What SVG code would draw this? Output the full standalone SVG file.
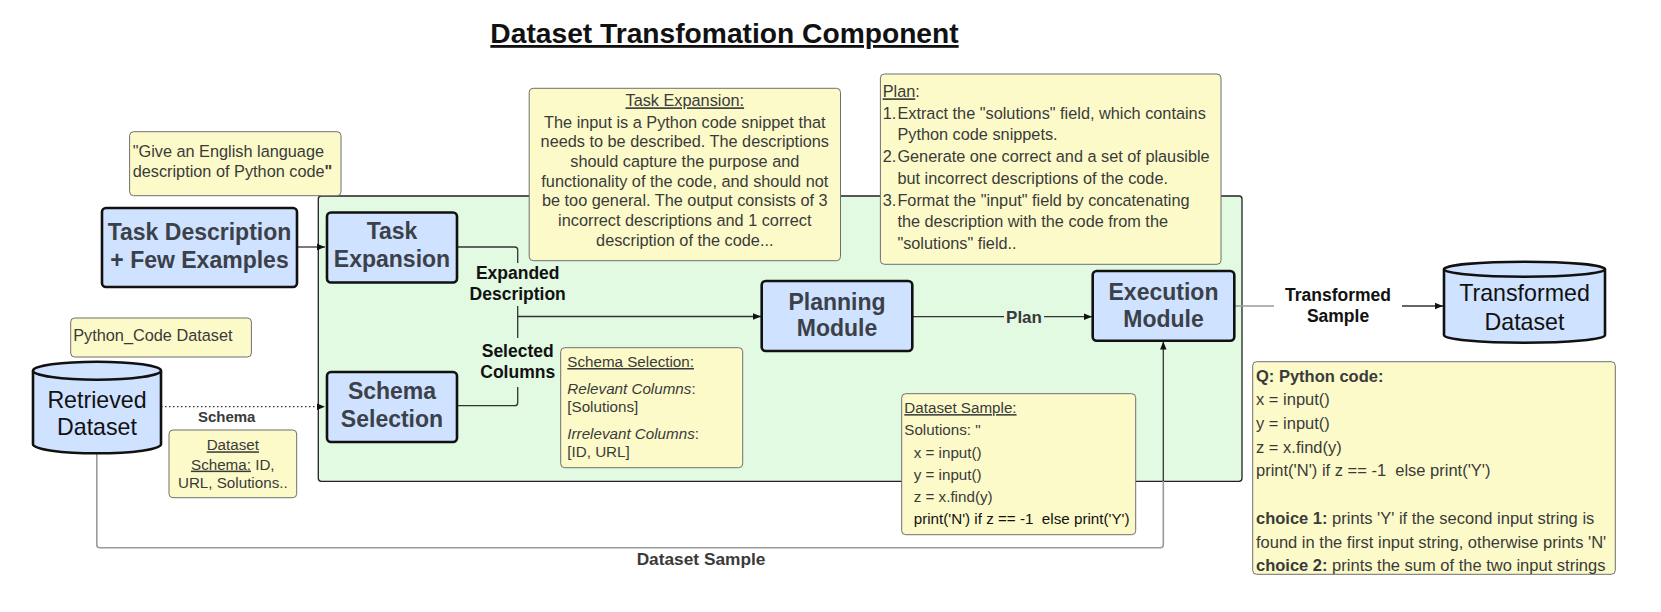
<svg xmlns="http://www.w3.org/2000/svg" width="1661" height="612" viewBox="0 0 1661 612">
<defs>
<style>
text{font-family:"Liberation Sans",Arial,sans-serif;white-space:pre}
.mod{fill:#cfe2ff;stroke:#111;stroke-width:2.6}
.modt{font-size:23px;font-weight:bold;fill:#3b4049;text-anchor:middle}
.db{fill:#cfe2ff;stroke:#111;stroke-width:2.6}
.dbt{font-size:23.2px;fill:#111;text-anchor:middle}
.note{fill:#fcfac9;stroke:#6f6f6f;stroke-width:1}
.nt{font-size:16.3px;fill:#3a3a3a}
.ns{font-size:15.2px;fill:#3a3a3a}
.nq{font-size:16.5px;fill:#3a3a3a}
.lbl{font-size:17.5px;font-weight:bold;fill:#111;text-anchor:middle}
.lblg{font-size:17.5px;font-weight:bold;fill:#3a3a3a;text-anchor:middle}
.ln{fill:none;stroke:#333;stroke-width:1.3}
.lng{fill:none;stroke:#9a9a9a;stroke-width:1.6}
.u{text-decoration:underline}
</style>
<marker id="arr" viewBox="0 0 10 10" refX="10" refY="5" markerWidth="8" markerHeight="8" markerUnits="userSpaceOnUse" orient="auto">
<path d="M0,1 L10,5 L0,9 Z" fill="#111"/>
</marker>
</defs>
<rect width="1661" height="612" fill="#fff"/>

<g id="title">
<text x="724.5" y="43" style="font-size:28.2px;font-weight:bold;fill:#111;text-decoration:underline" text-anchor="middle">Dataset Transfomation Component</text>
</g>

<g id="container">
<rect x="318.3" y="196" width="923.7" height="285.3" rx="3" fill="#e2f9e2" stroke="#222" stroke-width="1.3"/>
</g>

<g id="connectors">
<path class="ln" d="M297,247 H325" marker-end="url(#arr)"/>
<path class="ln" d="M456.7,247 H514.7 Q517.7,247 517.7,250 V263"/>
<path class="ln" d="M517.7,306 V338"/>
<path class="ln" d="M517.7,387 V402.7 Q517.7,405.7 514.7,405.7 H456.7"/>
<path class="ln" d="M517.7,316.5 H761" marker-end="url(#arr)"/>
<path class="ln" d="M912.3,316.7 H1004"/>
<path class="ln" d="M1044,316.7 H1092" marker-end="url(#arr)"/>
<path fill="none" stroke="#333" stroke-width="1.2" d="M161,406.7 H325" stroke-dasharray="1.5,2.5" marker-end="url(#arr)"/>
<path class="lng" d="M96.8,453.3 V544.7 Q96.8,547.7 99.8,547.7 H1160.3 Q1163.3,547.7 1163.3,544.7 V480"/>
<path class="ln" d="M1163.3,481 V341.5" marker-end="url(#arr)"/>
<path class="lng" d="M1234.3,306 H1274"/>
<path class="ln" d="M1402,306 H1443" marker-end="url(#arr)"/>
<text class="lbl" x="517.7" y="278.5">Expanded</text>
<text class="lbl" x="517.7" y="299.5">Description</text>
<text class="lbl" x="517.7" y="357">Selected</text>
<text class="lbl" x="517.7" y="377.8">Columns</text>
<text class="lblg" x="1024" y="322.5" style="font-size:17px">Plan</text>
<text class="lbl" x="1338" y="301">Transformed</text>
<text class="lbl" x="1338" y="321.8">Sample</text>
<text class="lblg" x="226.7" y="422" style="font-size:15px">Schema</text>
<text class="lblg" x="701" y="565" style="font-size:17.3px">Dataset Sample</text>
</g>

<g id="note-give">
<rect class="note" x="129.6" y="131.7" width="211.4" height="64" rx="4"/>
<text class="nt" x="132.7" y="157.4">"Give an English language</text>
<text class="nt" x="132.7" y="176.7">description of Python code<tspan font-weight="bold">"</tspan></text>
</g>

<g id="task-description">
<rect class="mod" x="102" y="208" width="195" height="79" rx="4"/>
<text class="modt" x="199.5" y="239.7">Task Description</text>
<text class="modt" x="199.5" y="268">+ Few Examples</text>
</g>

<g id="task-expansion">
<rect class="mod" x="327" y="212.5" width="130" height="70" rx="4"/>
<text class="modt" x="392" y="238.7">Task</text>
<text class="modt" x="392" y="267.3">Expansion</text>
</g>

<g id="schema-selection">
<rect class="mod" x="327" y="372" width="130" height="70" rx="4"/>
<text class="modt" x="392" y="398.7">Schema</text>
<text class="modt" x="392" y="427">Selection</text>
</g>

<g id="note-python-code">
<rect class="note" x="70.7" y="318" width="180.7" height="39" rx="4"/>
<text class="nt" x="73.2" y="341.3">Python_Code Dataset</text>
</g>

<g id="retrieved-dataset">
<path class="db" d="M33,370.7 A64,9 0 0 1 161,370.7 V444.3 A64,9 0 0 1 33,444.3 Z"/>
<path fill="none" stroke="#111" stroke-width="2.6" d="M33,370.7 A64,9 0 0 0 161,370.7"/>
<text class="dbt" x="97" y="408">Retrieved</text>
<text class="dbt" x="97" y="434.7">Dataset</text>
</g>

<g id="note-dataset-schema">
<rect class="note" x="169" y="430" width="127.7" height="67.7" rx="4"/>
<text class="ns" x="232.8" y="450.3" text-anchor="middle"><tspan class="u">Dataset</tspan></text>
<text class="ns" x="232.8" y="469.6" text-anchor="middle"><tspan class="u">Schema:</tspan> ID,</text>
<text class="ns" x="232.8" y="488" text-anchor="middle">URL, Solutions..</text>
</g>

<g id="note-task-expansion">
<rect class="note" x="529.2" y="88.3" width="311.3" height="172.4" rx="4"/>
<g class="nt" text-anchor="middle">
<text x="684.8" y="106.3" class="nt u">Task Expansion:</text>
<text x="684.8" y="127.6" class="nt">The input is a Python code snippet that</text>
<text x="684.8" y="147.3" class="nt">needs to be described. The descriptions</text>
<text x="684.8" y="167" class="nt">should capture the purpose and</text>
<text x="684.8" y="186.7" class="nt">functionality of the code, and should not</text>
<text x="684.8" y="206.4" class="nt">be too general. The output consists of 3</text>
<text x="684.8" y="226.1" class="nt">incorrect descriptions and 1 correct</text>
<text x="684.8" y="245.8" class="nt">description of the code...</text>
</g>
</g>

<g id="note-plan">
<rect class="note" x="880.4" y="74" width="340.6" height="190.3" rx="4"/>
<text class="nt" x="882.7" y="97.3"><tspan class="u">Plan</tspan>:</text>
<text class="nt" x="882.7" y="118.9">1.</text>
<text class="nt" x="897.4" y="118.9">Extract the "solutions" field, which contains</text>
<text class="nt" x="897.4" y="139.6">Python code snippets.</text>
<text class="nt" x="882.7" y="162.3">2.</text>
<text class="nt" x="897.4" y="162.3">Generate one correct and a set of plausible</text>
<text class="nt" x="897.4" y="183.9">but incorrect descriptions of the code.</text>
<text class="nt" x="882.7" y="205.6">3.</text>
<text class="nt" x="897.4" y="205.6">Format the "input" field by concatenating</text>
<text class="nt" x="897.4" y="226.6">the description with the code from the</text>
<text class="nt" x="897.4" y="248.9">"solutions" field..</text>
</g>

<g id="note-schema-selection">
<rect class="note" x="560.7" y="347.7" width="182" height="120" rx="4"/>
<text class="ns u" x="567.3" y="367">Schema Selection:</text>
<text class="ns" x="567.3" y="393.6"><tspan font-style="italic">Relevant Columns</tspan>:</text>
<text class="ns" x="567.3" y="412">[Solutions]</text>
<text class="ns" x="567.3" y="438.6"><tspan font-style="italic">Irrelevant Columns</tspan>:</text>
<text class="ns" x="567.3" y="457.3">[ID, URL]</text>
</g>

<g id="planning-module">
<rect class="mod" x="761.7" y="281" width="150.6" height="70" rx="4"/>
<text class="modt" x="837" y="309.7">Planning</text>
<text class="modt" x="837" y="336.3">Module</text>
</g>

<g id="execution-module">
<rect class="mod" x="1092.7" y="271" width="141.6" height="69.7" rx="4"/>
<text class="modt" x="1163.5" y="299.7">Execution</text>
<text class="modt" x="1163.5" y="327">Module</text>
</g>

<g id="note-dataset-sample">
<rect class="note" x="901.7" y="393.7" width="234" height="141" rx="4"/>
<text class="ns u" x="904.3" y="413.1">Dataset Sample:</text>
<text class="ns" x="904.3" y="435.1">Solutions: "</text>
<text class="ns" x="913.7" y="457.7">x = input()</text>
<text class="ns" x="913.7" y="479.7">y = input()</text>
<text class="ns" x="913.7" y="501.7">z = x.find(y)</text>
<text class="ns" x="913.7" y="524.1" style="fill:#111">print('N') if z == -1  else print('Y')</text>
</g>

<g id="transformed-dataset">
<path class="db" d="M1444,269.2 A80.5,7.5 0 0 1 1605,269.2 V335.2 A80.5,7.5 0 0 1 1444,335.2 Z"/>
<path fill="none" stroke="#111" stroke-width="2.6" d="M1444,269.2 A80.5,7.5 0 0 0 1605,269.2"/>
<text class="dbt" x="1524.5" y="301">Transformed</text>
<text class="dbt" x="1524.5" y="329.7">Dataset</text>
</g>

<g id="note-q">
<rect class="note" x="1252.7" y="361.7" width="362.6" height="212.6" rx="4"/>
<text class="nq" x="1256" y="381.5" font-weight="bold">Q: Python code:</text>
<text class="nq" x="1256" y="405.1">x = input()</text>
<text class="nq" x="1256" y="428.8">y = input()</text>
<text class="nq" x="1256" y="452.5">z = x.find(y)</text>
<text class="nq" x="1256" y="476.1">print('N') if z == -1  else print('Y')</text>
<text class="nq" x="1256" y="523.8"><tspan font-weight="bold">choice 1:</tspan> prints 'Y' if the second input string is</text>
<text class="nq" x="1256" y="547.5">found in the first input string, otherwise prints 'N'</text>
<text class="nq" x="1256" y="571.1"><tspan font-weight="bold">choice 2:</tspan> prints the sum of the two input strings</text>
</g>
</svg>
